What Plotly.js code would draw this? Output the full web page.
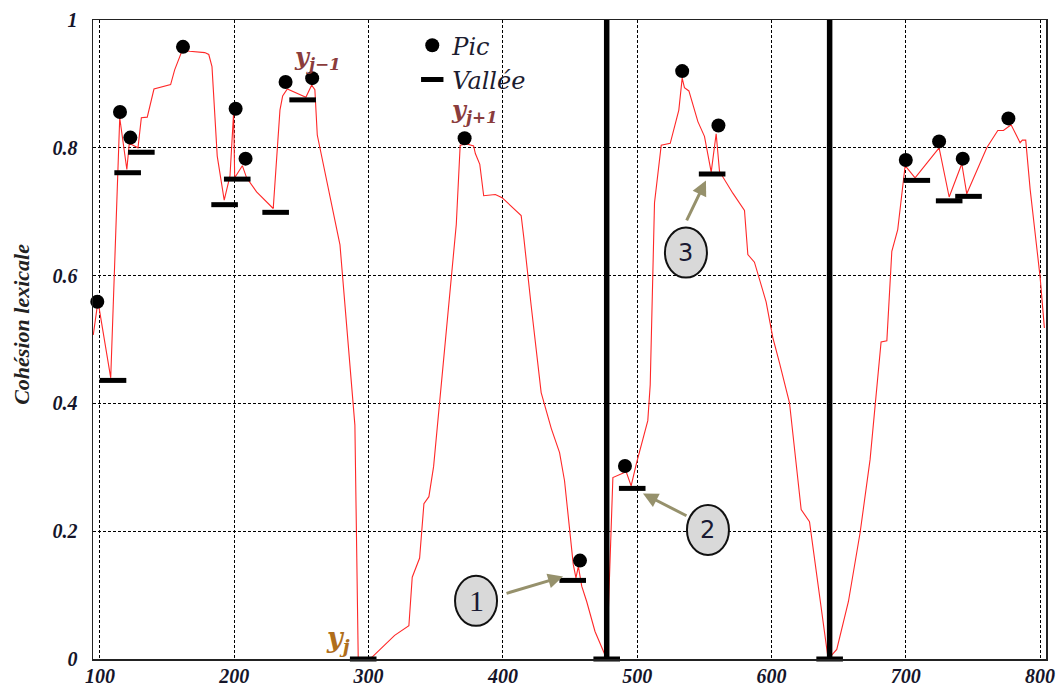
<!DOCTYPE html>
<html>
<head>
<meta charset="utf-8">
<script src="https://cdn.plot.ly/plotly-3.0.1.min.js"></script>
<style>
  html, body { margin: 0; padding: 0; background: #fff; }
  #chart { width: 1064px; height: 688px; }
</style>
</head>
<body>
<div id="chart"></div>
<script>
// Lexical cohesion curve along the text (position -> cohesion)
const positions = [95, 98.5, 108, 114.7, 120, 121.8, 128.3, 130.8, 135.2, 140.2, 152.6, 155.6, 161.3, 166.8, 178, 181, 183.4, 187.3, 192.5, 196.8, 199.5, 200.3, 206, 209.2, 216.6, 229, 234, 236, 239.5, 253.3, 257.6, 260, 261.8, 278.7, 289.8, 292.3, 300.7, 303.2, 319.4, 330, 332.5, 338, 341.2, 344.9, 348.4, 352.9, 360.3, 365.3, 368.2, 373.2, 378.2, 379.5, 382.8, 385.7, 394.4, 399.4, 413.6, 415.6, 421, 428.5, 436, 442.2, 445.9, 452.4, 454.4, 456.2, 458.7, 462.4, 468.6, 477.3, 481.9, 491.8, 495.5, 499.3, 507.9, 509.7, 512.9, 517.9, 524.6, 531, 533.5, 535.2, 538.5, 545.2, 550.1, 555.1, 558.8, 561.3, 571.2, 579.9, 582.4, 587.3, 596, 601, 606, 613.4, 622.1, 628.3, 642.2, 648.6, 657.3, 666, 673.4, 677.2, 681.6, 685.9, 689.6, 694, 699.5, 706.9, 724.8, 732.3, 741.7, 745.4, 760.3, 768.5, 772.7, 778.4, 785.1, 786.8, 789.3, 792.6, 800, 803.2];
const cohesion = [0.507, 0.56, 0.44, 0.847, 0.766, 0.807, 0.80, 0.847, 0.848, 0.892, 0.899, 0.922, 0.953, 0.951, 0.949, 0.946, 0.927, 0.787, 0.718, 0.756, 0.855, 0.753, 0.772, 0.753, 0.731, 0.705, 0.859, 0.881, 0.892, 0.879, 0.898, 0.891, 0.82, 0.648, 0.366, 0, 0, 0.004, 0.037, 0.052, 0.128, 0.158, 0.243, 0.254, 0.301, 0.405, 0.571, 0.68, 0.804, 0.806, 0.803, 0.791, 0.774, 0.725, 0.727, 0.722, 0.694, 0.659, 0.554, 0.417, 0.361, 0.323, 0.279, 0.148, 0.127, 0.145, 0.114, 0.09, 0.043, 0, 0.284, 0.293, 0.271, 0.305, 0.373, 0.429, 0.714, 0.804, 0.807, 0.859, 0.909, 0.894, 0.889, 0.841, 0.818, 0.762, 0.822, 0.763, 0.729, 0.702, 0.633, 0.621, 0.559, 0.503, 0.463, 0.401, 0.234, 0.215, 0, 0.015, 0.09, 0.198, 0.312, 0.398, 0.496, 0.498, 0.638, 0.672, 0.772, 0.753, 0.80, 0.723, 0.775, 0.728, 0.80, 0.827, 0.827, 0.836, 0.808, 0.812, 0.812, 0.735, 0.598, 0.518];

// Detected peaks ("Pic")
const peakPos = [98, 114.9, 122.6, 161.8, 201, 208.4, 238.2, 258, 371.5, 457.4, 490.9, 533.5, 560.5, 700, 724.8, 742.4, 776.4];
const peakVal = [0.559, 0.856, 0.816, 0.958, 0.861, 0.783, 0.903, 0.909, 0.815, 0.154, 0.302, 0.92, 0.835, 0.781, 0.81, 0.783, 0.846];

// Detected valleys ("Vallée")
const valleyPos = [109.7, 120.6, 130.8, 192.8, 202.2, 230.8, 250.9, 296, 452, 477.3, 496.3, 555.8, 643.3, 708.2, 732.3, 746.7];
const valleyVal = [0.436, 0.761, 0.793, 0.711, 0.751, 0.699, 0.875, 0, 0.123, 0, 0.267, 0.759, 0, 0.749, 0.717, 0.724];

// Segment boundaries kept after filtering
const boundaries = [477.3, 643.3];

// Axis ticks
const xTicks = [100, 200, 300, 400, 500, 600, 700, 800];
const yTicks = [0, 0.2, 0.4, 0.6, 0.8, 1];
const yTickText = ['0', '0.2', '0.4', '0.6', '0.8', '1'];

const serif = 'Liberation Serif, Times New Roman, serif';
const tickFont = { family: serif, size: 20, color: '#15152a', weight: 700, style: 'italic' };

const traces = [
  {
    x: positions, y: cohesion, type: 'scatter', mode: 'lines',
    line: { color: 'rgb(255,40,40)', width: 1.1 },
    showlegend: false, hoverinfo: 'x+y'
  },
  {
    x: peakPos, y: peakVal, type: 'scatter', mode: 'markers', name: 'Pic',
    marker: { symbol: 'circle', size: 14, color: '#000' },
    cliponaxis: false
  },
  {
    x: valleyPos, y: valleyVal, type: 'scatter', mode: 'markers', name: 'Vallée',
    marker: { symbol: 'line-ew', size: 19, color: '#000', line: { width: 5, color: '#000' } },
    cliponaxis: false
  }
];

const shapes = boundaries.map(b => ({
  type: 'line', xref: 'x', yref: 'y', x0: b, x1: b, y0: 0, y1: 1,
  line: { color: '#000', width: 5.5 }, layer: 'above'
}));

// Numbered callouts: [label, centre x, centre y, arrow tail x, tail y, head x, head y, font, size]
const callouts = [
  ['1', 380, 0.091, 401.6, 0.102, 444.8, 0.129, 'Liberation Serif, serif', 30],
  ['2', 552.7, 0.202, 537.8, 0.223, 504.3, 0.259, 'DejaVu Sans, sans-serif', 24],
  ['3', 536.3, 0.636, 536.3, 0.684, 551.2, 0.749, 'DejaVu Sans, sans-serif', 24]
];

const annotations = [];
callouts.forEach(c => {
  annotations.push({
    x: c[5], y: c[6], ax: c[3], ay: c[4], axref: 'x', ayref: 'y', xref: 'x', yref: 'y',
    text: '', showarrow: true, arrowhead: 2, arrowsize: 1, arrowwidth: 3,
    arrowcolor: '#96916c', standoff: 0, startstandoff: 0
  });
  shapes.push({
    type: 'circle', xref: 'x', yref: 'y', xsizemode: 'pixel', ysizemode: 'pixel',
    xanchor: c[1], yanchor: c[2], x0: -21, x1: 21, y0: -25, y1: 25,
    fillcolor: '#d9d9d9', line: { color: '#111', width: 2 }, layer: 'above'
  });
  annotations.push({
    x: c[1], y: c[2], xref: 'x', yref: 'y', text: c[0], showarrow: false,
    font: { family: c[7], size: c[8], color: '#1a1a33' }
  });
});

// Labels of the cohesion values around the first boundary
const yLabel = (sub) => '<b><i>y</i></b><sub><b><i>' + sub + '</i></b></sub>';
annotations.push(
  { x: 262.3, y: 0.94, xref: 'x', yref: 'y', text: yLabel('j−1'), showarrow: false,
    font: { family: 'DejaVu Serif, serif', size: 24, color: '#8a3c3c' } },
  { x: 379.2, y: 0.858, xref: 'x', yref: 'y', text: yLabel('j+1'), showarrow: false,
    font: { family: 'DejaVu Serif, serif', size: 24, color: '#8a3c3c' } },
  { x: 277, y: 0.03, xref: 'x', yref: 'y', text: yLabel('j'), showarrow: false,
    font: { family: 'DejaVu Serif, serif', size: 27, color: '#b06e1a' } },
  { x: -0.0745, y: 0.523, xref: 'paper', yref: 'paper', xanchor: 'center', yanchor: 'middle',
    text: 'Cohésion lexicale', textangle: -90, showarrow: false,
    font: { family: serif, size: 22, color: '#222', style: 'italic', weight: 700 } }
);

const layout = {
  width: 1064, height: 688,
  margin: { l: 93, r: 18, t: 20, b: 29, pad: 0 },
  paper_bgcolor: '#fff', plot_bgcolor: '#fff',
  showlegend: true,
  legend: {
    x: 0.335, y: 0.995, xanchor: 'left', yanchor: 'top',
    bgcolor: 'rgba(0,0,0,0)', borderwidth: 0,
    font: { family: 'DejaVu Serif, serif', size: 24, color: '#1c1c30', style: 'italic' },
    tracegroupgap: 4, itemwidth: 30
  },
  xaxis: {
    range: [94.8, 804.4], tickvals: xTicks, ticktext: xTicks.map(String),
    showgrid: true, gridcolor: '#000', gridwidth: 1, griddash: '3px,2px',
    zeroline: false, showline: true, linecolor: '#222', linewidth: 1.5, mirror: true,
    ticks: '', tickfont: tickFont, ticklabelstandoff: -2
  },
  yaxis: {
    range: [0, 1], tickvals: yTicks, ticktext: yTickText,
    showgrid: true, gridcolor: '#000', gridwidth: 1, griddash: '3px,2px',
    zeroline: false, showline: true, linecolor: '#222', linewidth: 1.5, mirror: true,
    ticks: '', tickfont: tickFont, ticklabelstandoff: 10
  },
  shapes: shapes,
  annotations: annotations
};

Plotly.newPlot('chart', traces, layout, { displayModeBar: false, staticPlot: true });
</script>
</body>
</html>
